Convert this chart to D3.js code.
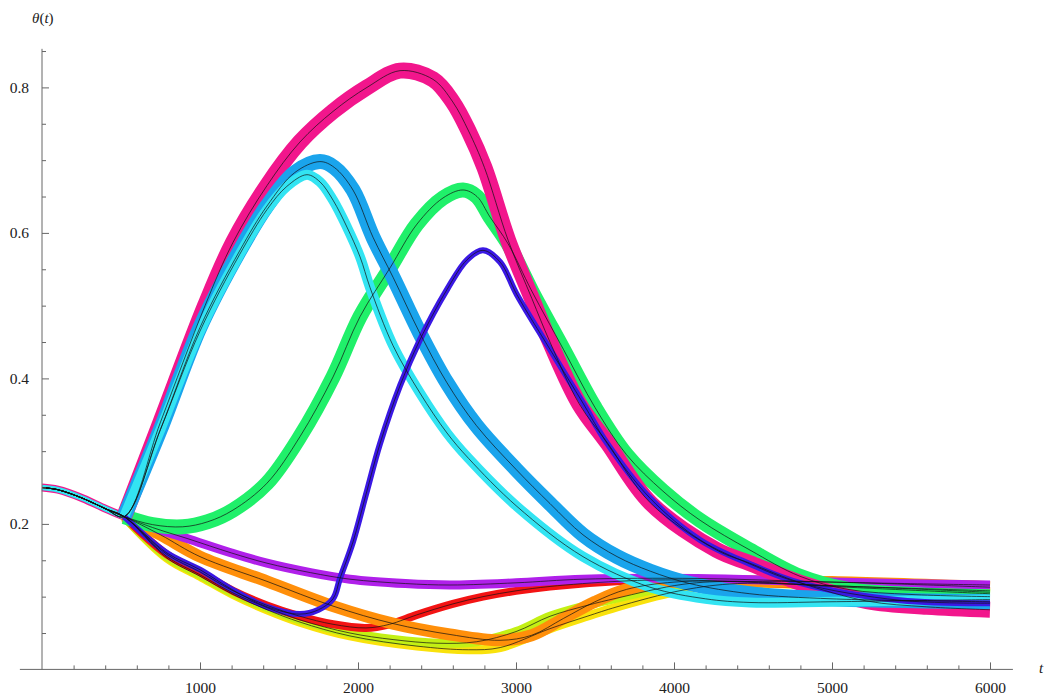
<!DOCTYPE html>
<html>
<head>
<meta charset="utf-8">
<script src="https://cdn.jsdelivr.net/npm/d3@7/dist/d3.min.js"></script>
<style>
body { margin: 0; background: #fff; }
</style>
</head>
<body>
<div id="chart"></div>
<script>
// shared initial decay, all runs coincide until t ~ 520
const start = [[0, 0.25], [100, 0.247], [260, 0.235], [400, 0.221], [520, 0.21]];

const magenta = start.concat([[750, 0.34], [1032, 0.5], [1209, 0.587], [1424, 0.665], [1633, 0.725], [1842, 0.767],
  [2057, 0.8], [2266, 0.823], [2475, 0.811], [2600, 0.78], [2700, 0.74], [2800, 0.69], [2950, 0.59], [3100, 0.51],
  [3215, 0.45], [3400, 0.365], [3580, 0.311], [3850, 0.229], [4270, 0.164], [4480, 0.146], [4800, 0.119],
  [5220, 0.094], [5600, 0.086], [6000, 0.082]]);

const lightBlue = start.concat([[750, 0.33], [1000, 0.47], [1250, 0.575], [1424, 0.637], [1600, 0.683], [1759, 0.698],
  [1850, 0.69], [1968, 0.659], [2095, 0.594], [2222, 0.539], [2392, 0.462], [2563, 0.394], [2750, 0.335],
  [3000, 0.275], [3215, 0.228], [3424, 0.185], [3640, 0.155], [3850, 0.135], [4100, 0.118], [4480, 0.104],
  [5000, 0.097], [6000, 0.093]]);

const cyan = start.concat([[750, 0.33], [1000, 0.465], [1250, 0.57], [1424, 0.632], [1550, 0.664], [1677, 0.68],
  [1760, 0.67], [1842, 0.645], [1930, 0.608], [2013, 0.567], [2076, 0.525], [2222, 0.445], [2392, 0.38],
  [2563, 0.325], [2700, 0.29], [3006, 0.224], [3424, 0.155], [3848, 0.113], [4200, 0.097], [4481, 0.092],
  [5000, 0.093], [6000, 0.096]]);

const green = start.concat([[700, 0.199], [890, 0.196], [1050, 0.203], [1209, 0.219], [1424, 0.256], [1633, 0.32],
  [1842, 0.402], [2013, 0.485], [2203, 0.552], [2373, 0.612], [2538, 0.648], [2665, 0.659], [2753, 0.65],
  [2835, 0.622], [2950, 0.585], [3100, 0.52], [3300, 0.44], [3500, 0.36], [3700, 0.295], [3930, 0.245],
  [4165, 0.205], [4481, 0.164], [4797, 0.128], [5100, 0.11], [5500, 0.103], [6000, 0.1]]);

const indigo = start.concat([[791, 0.16], [1000, 0.137], [1209, 0.109], [1424, 0.086], [1633, 0.076], [1750, 0.082],
  [1842, 0.097], [1886, 0.125], [1968, 0.175], [2050, 0.24], [2139, 0.31], [2266, 0.39], [2392, 0.453],
  [2563, 0.522], [2690, 0.563], [2791, 0.576], [2899, 0.56], [3006, 0.515], [3215, 0.44], [3424, 0.366],
  [3576, 0.311], [3850, 0.235], [4165, 0.178], [4480, 0.145], [4797, 0.119], [5430, 0.095], [6000, 0.091]]);

const purple = start.concat([[700, 0.195], [918, 0.18], [1200, 0.16], [1424, 0.146], [1700, 0.133], [1949, 0.124],
  [2300, 0.118], [2582, 0.116], [3000, 0.119], [3424, 0.124], [4146, 0.125], [5000, 0.12], [6000, 0.116]]);

const orange = start.concat([[750, 0.185], [1000, 0.155], [1424, 0.121], [1842, 0.087], [2222, 0.063], [2582, 0.048],
  [2899, 0.04], [3100, 0.047], [3300, 0.07], [3500, 0.093], [3700, 0.11], [4000, 0.12], [4500, 0.121],
  [5000, 0.12], [6000, 0.113]]);

const red = start.concat([[791, 0.158], [1000, 0.134], [1209, 0.108], [1424, 0.088], [1633, 0.073], [1842, 0.062],
  [2050, 0.057], [2200, 0.062], [2373, 0.075], [2600, 0.09], [2791, 0.1], [3000, 0.108], [3215, 0.114],
  [3639, 0.121], [4000, 0.123], [5000, 0.115], [6000, 0.108]]);

const yellowGreen = start.concat([[791, 0.155], [1000, 0.13], [1209, 0.105], [1424, 0.085], [1633, 0.068],
  [1949, 0.05], [2222, 0.041], [2500, 0.036], [2750, 0.038], [3000, 0.052], [3215, 0.073], [3450, 0.088],
  [3639, 0.098], [4057, 0.117], [4400, 0.121], [5000, 0.114], [6000, 0.104]]);

const yellow = start.concat([[791, 0.153], [1000, 0.128], [1209, 0.103], [1424, 0.082], [1633, 0.065], [1949, 0.046],
  [2373, 0.032], [2700, 0.027], [2900, 0.03], [3215, 0.056], [3450, 0.073], [3639, 0.086], [4057, 0.109],
  [4400, 0.118], [5000, 0.115], [6000, 0.106]]);

const xMajor = [1000, 2000, 3000, 4000, 5000, 6000];
const yMajor = [0.2, 0.4, 0.6, 0.8];
const branchT = 520;

// drawing order, back to front
const series = [
  { data: yellow, color: "#f9e20c", w: 9 },
  { data: yellowGreen, color: "#c3f014", w: 9 },
  { data: red, color: "#f31414", w: 8 },
  { data: orange, color: "#ff8f0a", w: 12 },
  { data: purple, color: "#b020ea", w: 9 },
  { data: green, color: "#20f06a", w: 15 },
  { data: magenta, color: "#f2168c", w: 16 },
  { data: lightBlue, color: "#1aa4ec", w: 15 },
  { data: cyan, color: "#33e4f2", w: 10 },
  { data: indigo, color: "#3a18e4", w: 6 }
];

const serif = "'Liberation Serif', 'DejaVu Serif', 'Times New Roman', serif";

const W = 1046, H = 697;
const svg = d3.select("#chart").append("svg")
  .attr("width", W)
  .attr("height", H)
  .style("font-family", serif);

const x = d3.scaleLinear().domain([0, 6000]).range([42, 990]);
const y = d3.scaleLinear().domain([0, 0.8]).range([669.4, 87.4]);

const line = d3.line()
  .x(d => x(d[0]))
  .y(d => y(d[1]))
  .curve(d3.curveCatmullRom.alpha(0.5));

// shared starting piece, narrow band
svg.append("path")
  .attr("d", line(start))
  .attr("fill", "none")
  .attr("stroke", "#f2168c")
  .attr("stroke-width", 8);
svg.append("path")
  .attr("d", line(start))
  .attr("fill", "none")
  .attr("stroke", "#33e4f2")
  .attr("stroke-width", 5.5);

// colored bands (the scattered data) after branching
svg.append("g").selectAll("path")
  .data(series)
  .enter().append("path")
  .attr("d", d => line(d.data.filter(p => p[0] >= branchT)))
  .attr("fill", "none")
  .attr("stroke", d => d.color)
  .attr("stroke-width", d => d.w)
  .attr("stroke-linejoin", "round");

// fitted curves
svg.append("g").selectAll("path")
  .data(series)
  .enter().append("path")
  .attr("d", d => line(d.data))
  .attr("fill", "none")
  .attr("stroke", "#111")
  .attr("stroke-width", 0.7);

// axes
const axisColor = "#666";
const minorX = d3.range(200, 6001, 200).filter(v => v % 1000 !== 0);
const minorY = d3.range(1, 18).map(i => i * 0.05).filter(v => Math.round(v * 100) % 20 !== 0);

const xAxisG = svg.append("g").attr("transform", `translate(0, ${y(0)})`);
xAxisG.append("g")
  .call(d3.axisBottom(x).tickValues(minorX).tickSize(-4).tickFormat(""));
xAxisG.append("g")
  .call(d3.axisBottom(x).tickValues(xMajor).tickSize(-7).tickPadding(13).tickFormat(d3.format("d")));

const yAxisG = svg.append("g").attr("transform", `translate(${x(0)}, 0)`);
yAxisG.append("g")
  .call(d3.axisLeft(y).tickValues(minorY).tickSize(-4).tickFormat(""));
yAxisG.append("g")
  .call(d3.axisLeft(y).tickValues(yMajor).tickSize(-7).tickPadding(13).tickFormat(d3.format(".1f")));

svg.selectAll(".domain").remove();
svg.selectAll(".tick line").attr("stroke", axisColor);
svg.selectAll("g").attr("font-family", null);
svg.selectAll(".tick text")
  .attr("font-size", null)
  .style("font-size", "15.5px")
  .style("font-family", serif)
  .attr("fill", "#222");

// main axis lines
svg.append("line")
  .attr("x1", x(-140)).attr("x2", x(6145))
  .attr("y1", y(0)).attr("y2", y(0))
  .attr("stroke", axisColor).attr("stroke-width", 1);
svg.append("line")
  .attr("x1", x(0)).attr("x2", x(0))
  .attr("y1", y(0)).attr("y2", y(0.853))
  .attr("stroke", axisColor).attr("stroke-width", 1);

// axis labels
const yLab = svg.append("text")
  .attr("x", 32)
  .attr("y", 23)
  .style("font-family", serif)
  .style("font-size", "15px")
  .attr("fill", "#222");
yLab.append("tspan").style("font-style", "italic").text("θ");
yLab.append("tspan").text("(");
yLab.append("tspan").style("font-style", "italic").text("t");
yLab.append("tspan").text(")");

svg.append("text")
  .attr("x", 1039)
  .attr("y", 673)
  .style("font-family", serif)
  .style("font-size", "15px")
  .style("font-style", "italic")
  .attr("fill", "#222")
  .text("t");
</script>
</body>
</html>
